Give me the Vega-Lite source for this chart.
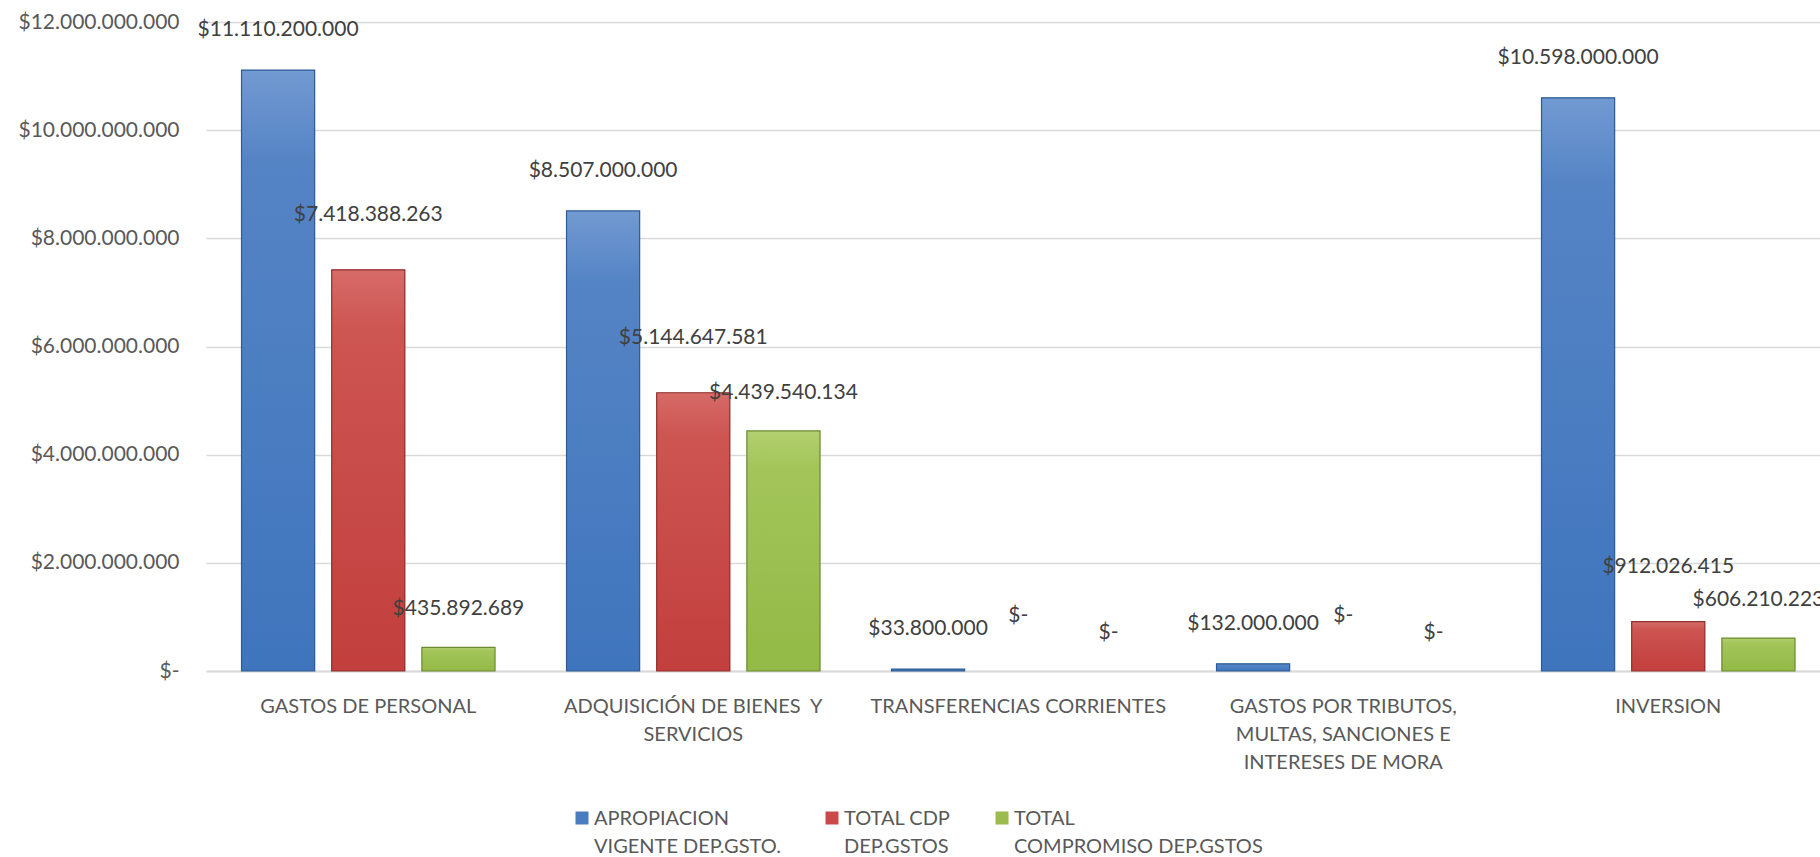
{
  "$schema": "https://vega.github.io/schema/vega-lite/v6.json",
  "width": 1614,
  "height": 649,
  "autosize": {"type": "none"},
  "padding": {"left": 206, "top": 22, "right": 0, "bottom": 186},
  "background": "white",
  "config": {
    "locale": {"number": {"decimal": ",", "thousands": ".", "grouping": [3], "currency": ["$", ""]}},
    "view": {"stroke": null},
    "font": "Lato"
  },
  "data": {
    "values": [
      {"rubro": "GASTOS DE PERSONAL", "serie": "APROPIACION VIGENTE DEP.GSTO.", "valor": 11110200000},
      {"rubro": "GASTOS DE PERSONAL", "serie": "TOTAL CDP DEP.GSTOS", "valor": 7418388263},
      {"rubro": "GASTOS DE PERSONAL", "serie": "TOTAL COMPROMISO DEP.GSTOS", "valor": 435892689},
      {"rubro": "ADQUISICIÓN DE BIENES  Y SERVICIOS", "serie": "APROPIACION VIGENTE DEP.GSTO.", "valor": 8507000000},
      {"rubro": "ADQUISICIÓN DE BIENES  Y SERVICIOS", "serie": "TOTAL CDP DEP.GSTOS", "valor": 5144647581},
      {"rubro": "ADQUISICIÓN DE BIENES  Y SERVICIOS", "serie": "TOTAL COMPROMISO DEP.GSTOS", "valor": 4439540134},
      {"rubro": "TRANSFERENCIAS CORRIENTES", "serie": "APROPIACION VIGENTE DEP.GSTO.", "valor": 33800000},
      {"rubro": "TRANSFERENCIAS CORRIENTES", "serie": "TOTAL CDP DEP.GSTOS", "valor": 0},
      {"rubro": "TRANSFERENCIAS CORRIENTES", "serie": "TOTAL COMPROMISO DEP.GSTOS", "valor": 0},
      {"rubro": "GASTOS POR TRIBUTOS, MULTAS, SANCIONES E INTERESES DE MORA", "serie": "APROPIACION VIGENTE DEP.GSTO.", "valor": 132000000},
      {"rubro": "GASTOS POR TRIBUTOS, MULTAS, SANCIONES E INTERESES DE MORA", "serie": "TOTAL CDP DEP.GSTOS", "valor": 0},
      {"rubro": "GASTOS POR TRIBUTOS, MULTAS, SANCIONES E INTERESES DE MORA", "serie": "TOTAL COMPROMISO DEP.GSTOS", "valor": 0},
      {"rubro": "INVERSION", "serie": "APROPIACION VIGENTE DEP.GSTO.", "valor": 10598000000},
      {"rubro": "INVERSION", "serie": "TOTAL CDP DEP.GSTOS", "valor": 912026415},
      {"rubro": "INVERSION", "serie": "TOTAL COMPROMISO DEP.GSTOS", "valor": 606210223}
    ]
  },
  "encoding": {
    "x": {
      "field": "rubro",
      "type": "nominal",
      "sort": ["GASTOS DE PERSONAL", "ADQUISICIÓN DE BIENES  Y SERVICIOS", "TRANSFERENCIAS CORRIENTES", "GASTOS POR TRIBUTOS, MULTAS, SANCIONES E INTERESES DE MORA", "INVERSION"],
      "scale": {"paddingInner": 0.22, "paddingOuter": 0.0931, "align": 0.587},
      "axis": {
        "title": null,
        "labelAngle": 0,
        "ticks": false,
        "domain": true,
        "domainColor": "#d9d9d9",
        "domainWidth": 2,
        "labelFont": "Lato",
        "labelFontSize": 20,
        "labelColor": "#595959",
        "labelBaseline": "top",
        "labelPadding": 25,
        "labelLineHeight": 28,
        "labelLimit": 500,
        "labelExpr": "datum.value == 'ADQUISICIÓN DE BIENES  Y SERVICIOS' ? ['ADQUISICIÓN DE BIENES \u00a0Y', 'SERVICIOS'] : datum.value == 'GASTOS POR TRIBUTOS, MULTAS, SANCIONES E INTERESES DE MORA' ? ['GASTOS POR TRIBUTOS,', 'MULTAS, SANCIONES E', 'INTERESES DE MORA'] : datum.label"
      }
    },
    "xOffset": {
      "field": "serie",
      "type": "nominal",
      "sort": ["APROPIACION VIGENTE DEP.GSTO.", "TOTAL CDP DEP.GSTOS", "TOTAL COMPROMISO DEP.GSTOS"],
      "scale": {"paddingInner": 0.189, "paddingOuter": 0}
    },
    "y": {
      "field": "valor",
      "type": "quantitative",
      "scale": {"domain": [0, 12000000000], "nice": false},
      "axis": {
        "title": null,
        "values": [0, 2000000000, 4000000000, 6000000000, 8000000000, 10000000000, 12000000000],
        "format": "$,.0f",
        "labelExpr": "datum.value == 0 ? '$-' : datum.label",
        "grid": true,
        "gridColor": "#d9d9d9",
        "gridWidth": 1.5,
        "domain": false,
        "ticks": false,
        "labelPadding": 27,
        "labelFont": "Lato",
        "labelFontSize": 21,
        "labelColor": "#595959"
      }
    },
    "text": {
      "field": "valor",
      "type": "quantitative",
      "format": "$,.0f",
      "condition": {"test": "datum.valor == 0", "value": "$-"}
    }
  },
  "layer": [
    {
      "mark": {"type": "bar", "strokeWidth": 0},
      "encoding": {
        "text": null,
        "color": {
          "field": "serie",
          "type": "nominal",
          "sort": ["APROPIACION VIGENTE DEP.GSTO.", "TOTAL CDP DEP.GSTOS", "TOTAL COMPROMISO DEP.GSTOS"],
          "scale": {"domain": ["APROPIACION VIGENTE DEP.GSTO.", "TOTAL CDP DEP.GSTOS", "TOTAL COMPROMISO DEP.GSTOS"], "range": ["#4a7dc0", "#c94a48", "#9bbb4f"]},
          "legend": {
            "orient": "none",
            "legendX": 366,
            "legendY": 786,
            "direction": "horizontal",
            "title": null,
            "symbolType": "square",
            "symbolSize": 169,
            "symbolStrokeWidth": 0,
            "labelFont": "Lato",
            "labelFontSize": 20,
            "labelColor": "#595959",
            "labelBaseline": "alphabetic",
            "labelOffset": 2,
            "labelLimit": 500,
            "columnPadding": 41,
            "padding": 0,
            "labelExpr": "datum.value == 'APROPIACION VIGENTE DEP.GSTO.' ? ['APROPIACION', 'VIGENTE DEP.GSTO.'] : datum.value == 'TOTAL CDP DEP.GSTOS' ? ['TOTAL CDP', 'DEP.GSTOS'] : ['TOTAL', 'COMPROMISO DEP.GSTOS']",
            "encode": {"labels": {"update": {"dy": {"value": 7}, "lineHeight": {"value": 28}}}}
          }
        }
      }
    },
    {
      "transform": [{"filter": "datum.serie == 'APROPIACION VIGENTE DEP.GSTO.' && datum.valor > 0"}],
      "mark": {
        "type": "bar",
        "fill": {"gradient": "linear", "x1": 0, "y1": 0, "x2": 0, "y2": 1, "stops": [{"offset": 0, "color": "#729ad2"}, {"offset": 0.15, "color": "#5584c5"}, {"offset": 1, "color": "#3f75bd"}]},
        "stroke": "#2d5b93",
        "strokeWidth": 1.2
      },
      "encoding": {"text": null}
    },
    {
      "transform": [{"filter": "datum.serie == 'TOTAL CDP DEP.GSTOS' && datum.valor > 0"}],
      "mark": {
        "type": "bar",
        "fill": {"gradient": "linear", "x1": 0, "y1": 0, "x2": 0, "y2": 1, "stops": [{"offset": 0, "color": "#d66b68"}, {"offset": 0.15, "color": "#cd5552"}, {"offset": 1, "color": "#c23f3d"}]},
        "stroke": "#8f302e",
        "strokeWidth": 1.2
      },
      "encoding": {"text": null}
    },
    {
      "transform": [{"filter": "datum.serie == 'TOTAL COMPROMISO DEP.GSTOS' && datum.valor > 0"}],
      "mark": {
        "type": "bar",
        "fill": {"gradient": "linear", "x1": 0, "y1": 0, "x2": 0, "y2": 1, "stops": [{"offset": 0, "color": "#b2d070"}, {"offset": 0.15, "color": "#a3c55a"}, {"offset": 1, "color": "#93b946"}]},
        "stroke": "#6b8a2f",
        "strokeWidth": 1.2
      },
      "encoding": {"text": null}
    },
    {
      "transform": [{"filter": "datum.serie == 'APROPIACION VIGENTE DEP.GSTO.'"}],
      "mark": {"type": "text", "baseline": "middle", "dy": -40, "font": "Lato", "fontSize": 21, "color": "#404040"}
    },
    {
      "transform": [{"filter": "datum.serie == 'TOTAL CDP DEP.GSTOS'"}],
      "mark": {"type": "text", "baseline": "middle", "dy": -55, "font": "Lato", "fontSize": 21, "color": "#404040"}
    },
    {
      "transform": [{"filter": "datum.serie == 'TOTAL COMPROMISO DEP.GSTOS'"}],
      "mark": {"type": "text", "baseline": "middle", "dy": -38, "font": "Lato", "fontSize": 21, "color": "#404040"}
    }
  ]
}
